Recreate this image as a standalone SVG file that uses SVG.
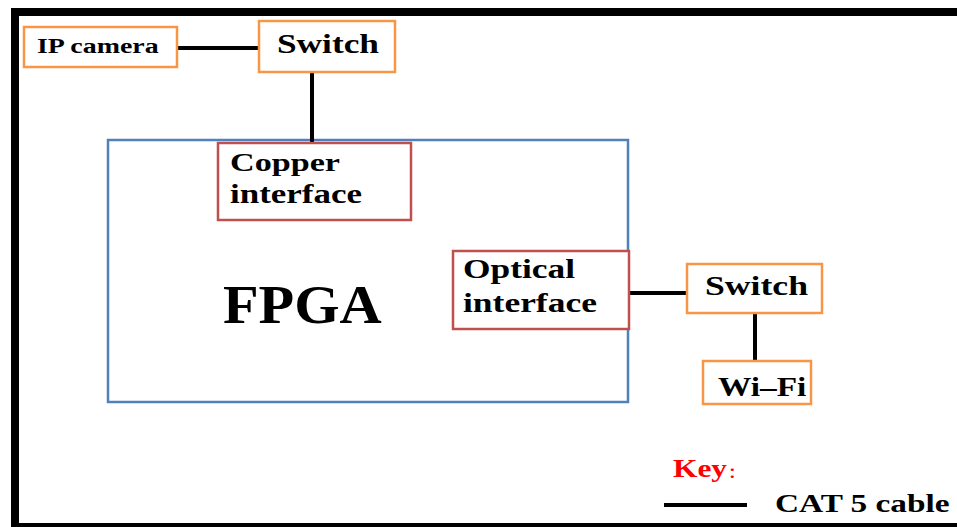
<svg xmlns="http://www.w3.org/2000/svg" width="957" height="527" viewBox="0 0 957 527">
  <style>
    .orange { fill: #ffffff; stroke: #F79646; stroke-width: 2.5; }
    .red { fill: #ffffff; stroke: #C0504D; stroke-width: 2.5; }
    .blue { fill: #ffffff; stroke: #4F81BD; stroke-width: 2.5; }
    .cable { stroke: #000000; stroke-width: 4; fill: none; }
    text { font-family: "Liberation Serif", "Times New Roman", serif; fill: #000000; font-weight: bold; }
  </style>

  <!-- outer frame -->
  <rect x="0" y="0" width="957" height="527" fill="#ffffff"/>
  <rect x="15" y="12" width="960" height="515" fill="none" stroke="#000000" stroke-width="8"/>

  <!-- FPGA board -->
  <g id="fpga">
    <rect class="blue" x="108" y="140" width="520" height="262"/>
    <text font-size="54" transform="translate(223 323) scale(1.08 1)">FPGA</text>
  </g>

  <!-- CAT 5 cable runs -->
  <g id="connectors">
    <line class="cable" x1="177" y1="48" x2="259" y2="48"/>
    <line class="cable" x1="312" y1="72" x2="312" y2="142"/>
    <line class="cable" x1="629" y1="293" x2="687" y2="293"/>
    <line class="cable" x1="755" y1="313" x2="755" y2="361"/>
  </g>

  <g id="ip-camera">
    <rect class="orange" x="24" y="27" width="153" height="40"/>
    <text font-size="21" transform="translate(37 53) scale(1.33 1)">IP camera</text>
  </g>

  <g id="switch-top">
    <rect class="orange" x="259" y="21" width="136" height="51"/>
    <text font-size="27.5" transform="translate(277 53) scale(1.284 1)">Switch</text>
  </g>

  <g id="copper-interface">
    <rect class="red" x="218" y="143" width="193" height="77"/>
    <text font-size="26" transform="translate(230 171) scale(1.313 1)">Copper</text>
    <text font-size="26.5" transform="translate(230 203) scale(1.32 1)">interface</text>
  </g>

  <g id="optical-interface">
    <rect class="red" x="453" y="251" width="176" height="78"/>
    <text font-size="27" transform="translate(463 278) scale(1.31 1)">Optical</text>
    <text font-size="27" transform="translate(463 312) scale(1.314 1)">interface</text>
  </g>

  <g id="switch-right">
    <rect class="orange" x="687" y="264" width="135" height="49"/>
    <text font-size="27.5" transform="translate(705 295) scale(1.297 1)">Switch</text>
  </g>

  <g id="wifi">
    <rect class="orange" x="703" y="361" width="108" height="43"/>
    <text font-size="27" transform="translate(718 396) scale(1.236 1)">Wi–Fi</text>
  </g>

  <!-- legend -->
  <g id="key">
    <text font-size="25" style="fill:#FF0000; font-family: 'Liberation Serif', 'Noto Sans CJK SC', serif;" transform="translate(673 477) scale(1.255 1)">Key<tspan font-size="13" dx="1">：</tspan></text>
    <line class="cable" x1="664" y1="505" x2="747" y2="505"/>
    <text font-size="26" transform="translate(775 512) scale(1.282 1)">CAT 5 cable</text>
  </g>
</svg>
